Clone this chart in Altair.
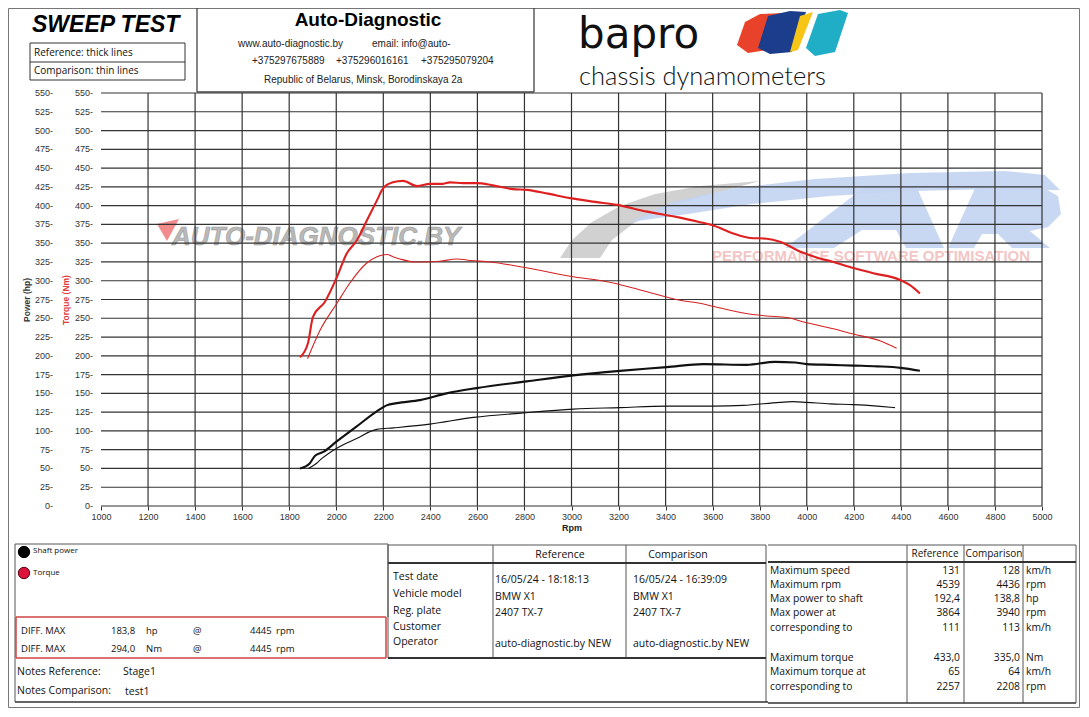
import altair as alt
import pandas as pd

# ---------------- curve data ----------------
ref_power_rpm = [1846, 1888, 1910, 1945, 2002, 2087, 2172, 2214, 2257, 2356, 2469, 2597, 2810, 3008, 3206, 3405, 3560, 3745, 3864, 3950, 4000, 4100, 4200, 4300, 4400, 4481]
ref_power_hp = [50, 57, 67, 72, 86, 106, 126, 134, 137, 141, 150, 157, 166, 174, 180, 185, 189, 188, 192, 191, 189, 188, 187, 186, 184, 180]

cmp_power_rpm = [1881, 1917, 1938, 2002, 2087, 2172, 2243, 2398, 2583, 2795, 3008, 3206, 3405, 3603, 3730, 3886, 3940, 4000, 4100, 4200, 4300, 4375]
cmp_power_hp = [50, 57, 63, 77, 90, 102, 104, 109, 118, 124, 129, 131, 133, 133, 134, 138, 139, 138, 136, 135, 133, 131]

ref_torque_rpm = [1846, 1880, 1901, 1952, 2003, 2044, 2088, 2131, 2173, 2199, 2241, 2284, 2343, 2398, 2454, 2483, 2540, 2598, 2666, 2751, 2810, 2900, 2994, 3100, 3193, 3321, 3461, 3546, 3600, 3687, 3759, 3830, 3886, 3971, 4042, 4113, 4198, 4283, 4397, 4439, 4481]
ref_torque_nm = [198, 217, 252, 272, 305, 336, 354, 381, 407, 423, 431, 433, 426, 429, 429, 431, 430, 430, 427, 422, 421, 416, 410, 405, 401, 392, 384, 378, 374, 363, 357, 356, 352, 339, 331, 325, 317, 310, 301, 294, 283]

cmp_torque_rpm = [1878, 1931, 2003, 2058, 2131, 2173, 2216, 2241, 2271, 2335, 2369, 2440, 2513, 2570, 2654, 2795, 2994, 3178, 3300, 3461, 3546, 3602, 3730, 3830, 3915, 4000, 4113, 4198, 4311, 4382]
cmp_torque_nm = [196, 234, 270, 297, 324, 332, 335, 332, 329, 325, 325, 326, 329, 327, 325, 318, 306, 297, 287, 274, 270, 266, 257, 253, 251, 244, 236, 229, 220, 210]

rpm_ticks = list(range(1000, 5001, 200))
value_ticks = list(range(0, 551, 25))

# ---------------- texts ----------------
title_text = "SWEEP TEST"
line_style_labels = ["Reference: thick lines", "Comparison: thin lines"]
company_name = "Auto-Diagnostic"
company_web = "www.auto-diagnostic.by"
company_mail = "email: info@auto-"
company_phones = ["+375297675889", "+375296016161", "+375295079204"]
company_address = "Republic of Belarus, Minsk, Borodinskaya 2a"
brand_name = "bapro"
brand_sub = "chassis dynamometers"
watermark_left = "AUTO-DIAGNOSTIC.BY"
watermark_right = "PERFORMANCE SOFTWARE OPTIMISATION"
power_title = "Power (hp)"
torque_title = "Torque (Nm)"
legend_items = ["Shaft power", "Torque"]
diff_labels = ["DIFF. MAX", "DIFF. MAX"]
diff_values = ["183,8", "294,0"]
diff_units = ["hp", "Nm"]
diff_rpm = ["4445", "4445"]
notes_labels = ["Notes Reference:", "Notes Comparison:"]
notes_values = ["Stage1", "test1"]
col_headers = ["Reference", "Comparison"]
info_labels = ["Test date", "Vehicle model", "Reg. plate", "Customer", "Operator"]
info_ref = ["16/05/24 - 18:18:13", "BMW X1", "2407 TX-7", "", "auto-diagnostic.by NEW"]
info_cmp = ["16/05/24 - 16:39:09", "BMW X1", "2407 TX-7", "", "auto-diagnostic.by NEW"]
res_labels = ["Maximum speed", "Maximum rpm", "Max power to shaft", "Max power at", "corresponding to",
              "Maximum torque", "Maximum torque at", "corresponding to"]
res_ref = ["131", "4539", "192,4", "3864", "111", "433,0", "65", "2257"]
res_cmp = ["128", "4436", "138,8", "3940", "113", "335,0", "64", "2208"]
res_units = ["km/h", "rpm", "hp", "rpm", "km/h", "Nm", "km/h", "rpm"]

# ---------------- layout ----------------
OX, OY = 101, 93          # page position of plot origin
W, H = 941, 413
SANS = "Liberation Sans"
UI = "Open Sans"

NOX = alt.X("x:Q", scale=None, axis=None)
NOY = alt.Y("y:Q", scale=None, axis=None)


def text_layer(items, **mark):
    rows = [{"t": t, "x": x - OX, "y": y - OY} for t, x, y in items if t != ""]
    return alt.Chart(pd.DataFrame(rows)).mark_text(**mark).encode(x=NOX, y=NOY, text="t:N")


def seg_layer(segs, color, width):
    rows = [{"x": a - OX, "y": b - OY, "x2": c - OX, "y2": d - OY} for a, b, c, d in segs]
    return alt.Chart(pd.DataFrame(rows)).mark_rule(color=color, strokeWidth=width).encode(
        x=NOX, y=NOY, x2="x2:Q", y2="y2:Q")


def shape_layer(pts, color, opacity=1.0):
    xs_ = [p[0] for p in pts]
    ys_ = [p[1] for p in pts]
    cx = (min(xs_) + max(xs_)) / 2
    cy = (min(ys_) + max(ys_)) / 2
    half = max(max(xs_) - min(xs_), max(ys_) - min(ys_)) / 2
    path = "M" + " L".join(f"{(x - cx) / half:.3f},{(y - cy) / half:.3f}" for x, y in pts) + " Z"
    df = pd.DataFrame({"x": [cx - OX], "y": [cy - OY]})
    return alt.Chart(df).mark_point(shape=path, filled=True, size=(2 * half) ** 2, color=color,
                                    opacity=opacity, strokeWidth=0).encode(x=NOX, y=NOY)


def circle_layer(x, y, fill, stroke, size):
    df = pd.DataFrame({"x": [x - OX], "y": [y - OY]})
    return alt.Chart(df).mark_point(shape="circle", filled=True, size=size, fill=fill, stroke=stroke,
                                    strokeWidth=1, opacity=1).encode(x=NOX, y=NOY)


xs = alt.Scale(domain=[1000, 5000], nice=False, zero=False)
ys = alt.Scale(domain=[0, 550], nice=False, zero=False)
xaxis = alt.Axis(values=rpm_ticks, format="d", labelFontSize=9, labelColor="#333", labelFont=SANS,
                 tickColor="#333", tickSize=4, tickWidth=1, domain=False, grid=False,
                 title="Rpm", titleFontSize=9, titleFont=SANS, titleFontWeight="bold", titleColor="#222",
                 titlePadding=2, labelPadding=2, labelFlush=False)
X = alt.X("rpm:Q", scale=xs, axis=xaxis)
Y = alt.Y("v:Q", scale=ys, axis=None)

layers = []

# ---- watermarks (under the grid) ----
layers.append(shape_layer([(560, 258), (572, 240), (592, 222), (620, 206), (655, 194), (700, 186), (760, 181),
                           (712, 194), (668, 207), (634, 223), (612, 240), (600, 258)], "#cccccc", 0.9))
layers.append(shape_layer([(630, 222), (672, 202), (735, 188), (815, 179), (910, 173), (1005, 171), (1045, 175),
                           (1060, 190), (1030, 190), (995, 189), (915, 191), (830, 196), (752, 204), (688, 214)],
                          "#c3d4f1", 0.9))
layers.append(shape_layer([(785, 248), (866, 186), (916, 186), (944, 248), (906, 248), (896, 230), (862, 230),
                           (834, 248)], "#c3d4f1", 0.9))
layers.append(shape_layer([(948, 248), (976, 186), (1040, 186), (1058, 196), (1061, 214), (1048, 227), (1030, 231),
                           (1050, 248), (1012, 248), (998, 234), (982, 234), (974, 248)], "#c3d4f1", 0.9))
layers.append(text_layer([(watermark_left, 172, 237)], align="left", baseline="middle", font=SANS, fontSize=26,
                         fontWeight="bold", fontStyle="italic", color="#b9b9b9", stroke="#9d9d9d",
                         strokeWidth=0.6))
layers.append(shape_layer([(157, 224), (179, 219), (167, 241)], "#f28b8b", 1.0))
layers.append(text_layer([(watermark_right, 712, 256)], align="left", baseline="middle", font=SANS, fontSize=15,
                         fontWeight="bold", color="#f3c6c6"))

# ---- grid ----
layers.append(alt.Chart(pd.DataFrame({"rpm": rpm_ticks[1:]})).mark_rule(color="#333", strokeWidth=1.2)
              .encode(x=X, y=alt.value(0), y2=alt.value(H)))
layers.append(alt.Chart(pd.DataFrame({"v": value_ticks})).mark_rule(color="#333", strokeWidth=1.2)
              .encode(y=Y, x=alt.value(0), x2=alt.value(W)))

# ---- y labels (two columns, both on the same scale) ----
for xoff in (-8, -48):
    layers.append(alt.Chart(pd.DataFrame({"v": value_ticks})).transform_calculate(lab="datum.v + '-'")
                  .mark_text(align="right", baseline="middle", fontSize=9, font=SANS, color="#333")
                  .encode(y=Y, x=alt.value(xoff), text="lab:N"))
layers.append(text_layer([(power_title, 27, 300)], angle=270, align="center", baseline="middle", font=SANS,
                         fontSize=8.5, fontWeight="bold", color="#333"))
layers.append(text_layer([(torque_title, 66, 300)], angle=270, align="center", baseline="middle", font=SANS,
                         fontSize=8.5, fontWeight="bold", color="#e03a3a"))


# ---- curves ----
def curve(rpm, vals, color, width):
    df = pd.DataFrame({"rpm": rpm, "v": vals})
    return alt.Chart(df).mark_line(color=color, strokeWidth=width, interpolate="monotone").encode(x=X, y=Y)


layers.append(curve(cmp_torque_rpm, cmp_torque_nm, "#d42222", 1.1))
layers.append(curve(ref_torque_rpm, ref_torque_nm, "#de2020", 2.1))
layers.append(curve(cmp_power_rpm, cmp_power_hp, "#111111", 1.1))
layers.append(curve(ref_power_rpm, ref_power_hp, "#111111", 2.1))

# ---- header ----
layers.append(seg_layer([(8.5, 8.5, 1079.5, 8.5), (8.5, 8.5, 8.5, 707.5), (1079.5, 8.5, 1079.5, 707.5),
                         (8.5, 707.5, 1079.5, 707.5)], "#777", 1))
layers.append(seg_layer([(30, 43, 185, 43), (30, 62, 185, 62), (30, 80, 185, 80), (30, 43, 30, 80),
                         (185, 43, 185, 80)], "#333", 1))
layers.append(seg_layer([(197, 8, 197, 92), (534, 8, 534, 92), (197, 92, 534, 92)], "#444", 1.3))
layers.append(text_layer([(title_text, 32, 25)], align="left", baseline="middle", font=SANS, fontSize=23,
                         fontWeight="bold", fontStyle="italic", color="#000"))
layers.append(text_layer([(line_style_labels[0], 34, 53), (line_style_labels[1], 34, 71)], align="left",
                         baseline="middle", font=UI, fontSize=10, color="#111"))
layers.append(text_layer([(company_name, 368, 20)], align="center", baseline="middle", font=SANS, fontSize=19,
                         fontWeight="bold", color="#000"))
layers.append(text_layer([(company_web, 238, 44), (company_mail, 372, 44),
                          (company_phones[0], 252, 61), (company_phones[1], 336, 61), (company_phones[2], 421, 61),
                          (company_address, 264, 80)], align="left", baseline="middle", font=SANS, fontSize=10,
                         color="#222"))
layers.append(text_layer([(brand_name, 578, 48)], align="left", baseline="alphabetic", font="DejaVu Sans",
                         fontSize=42, fontWeight="normal", color="#111"))
layers.append(text_layer([(brand_sub, 579, 85)], align="left", baseline="alphabetic", font="Lato", fontSize=25.5,
                         fontWeight=300, color="#111"))
layers.append(shape_layer([(745, 22), (760, 14), (783, 13), (768, 50), (748, 53), (737, 45)], "#e8432a"))
layers.append(shape_layer([(768, 16), (790, 11), (806, 12), (792, 52), (770, 54), (758, 48)], "#1b3d8c"))
layers.append(shape_layer([(800, 16), (813, 12), (798, 50), (790, 52)], "#f6c516"))
layers.append(shape_layer([(818, 14), (840, 10), (848, 13), (835, 52), (815, 56), (806, 48)], "#20aec6"))

# ---- bottom boxes ----
layers.append(seg_layer([(15, 544, 388, 544), (15, 544, 15, 702), (388, 544, 388, 617),
                         (388, 545, 766, 545), (388, 545, 388, 658), (493, 545, 493, 658), (626, 545, 626, 658),
                         (766, 545, 766, 702), (768, 545, 1076, 545), (1076, 545, 1076, 703),
                         (907, 545, 907, 703), (964, 545, 964, 703), (1023, 545, 1023, 703)], "#555", 1))
layers.append(seg_layer([(388, 563, 766, 563), (388, 658, 766, 658), (768, 562, 1076, 562)], "#333", 2.2))
layers.append(seg_layer([(15, 702, 768, 702), (768, 703, 1076, 703)], "#333", 1.5))
layers.append(seg_layer([(16, 617, 386, 617), (16, 658, 386, 658), (16, 617, 16, 658), (386, 617, 386, 658)],
                        "#d04545", 1.5))

layers.append(circle_layer(24, 552, "#000", "#000", 130))
layers.append(circle_layer(24, 573, "#dc143c", "#5a0010", 130))
layers.append(text_layer([(legend_items[0], 33, 551), (legend_items[1], 33, 573)], align="left",
                         baseline="middle", font=UI, fontSize=8, color="#111"))

diff_items = []
for i, yy in enumerate([631, 649]):
    diff_items += [(diff_labels[i], 21, yy), (diff_values[i], 111, yy), (diff_units[i], 146, yy),
                   ("@", 193, yy), (diff_rpm[i], 250, yy), ("rpm", 276, yy)]
layers.append(text_layer(diff_items, align="left", baseline="middle", font=UI, fontSize=9.5, color="#111"))

layers.append(text_layer([(notes_labels[0], 17, 672), (notes_values[0], 123, 672),
                          (notes_labels[1], 17, 691), (notes_values[1], 125, 692)], align="left",
                         baseline="middle", font=UI, fontSize=10.5, color="#111"))

# middle table
layers.append(text_layer([(col_headers[0], 560, 555), (col_headers[1], 678, 555)], align="center",
                         baseline="middle", font=UI, fontSize=10.5, color="#111"))
info_label_y = [577, 594, 611, 627, 642]
info_val_y = [580, 597, 613, 627, 644]
items = [(lab, 393, info_label_y[i]) for i, lab in enumerate(info_labels)]
items += [(v, 495, info_val_y[i]) for i, v in enumerate(info_ref)]
items += [(v, 633, info_val_y[i]) for i, v in enumerate(info_cmp)]
layers.append(text_layer(items, align="left", baseline="middle", font=UI, fontSize=10.5, color="#111"))

# right table
layers.append(text_layer([(col_headers[0], 935, 554), (col_headers[1], 994, 554)], align="center",
                         baseline="middle", font=UI, fontSize=10, color="#111"))
res_y = [571, 585, 599, 613, 628, 658, 672, 687]
items = [(lab, 770, res_y[i]) for i, lab in enumerate(res_labels)]
items += [(u, 1026, res_y[i]) for i, u in enumerate(res_units)]
layers.append(text_layer(items, align="left", baseline="middle", font=UI, fontSize=10.3, color="#111"))
items = [(v, 960, res_y[i]) for i, v in enumerate(res_ref)]
items += [(v, 1020, res_y[i]) for i, v in enumerate(res_cmp)]
layers.append(text_layer(items, align="right", baseline="middle", font=UI, fontSize=10.3, color="#111"))

chart = alt.layer(*layers).properties(
    width=W, height=H,
    padding={"left": OX - 8, "top": OY - 8, "right": 1072 - (OX - 8) - W, "bottom": 700 - (OY - 8) - H},
    autosize=alt.AutoSizeParams(type="none"),
    background="white",
).configure_view(strokeWidth=0)

chart.save("out.html", embed_options={"renderer": "svg", "actions": False})
